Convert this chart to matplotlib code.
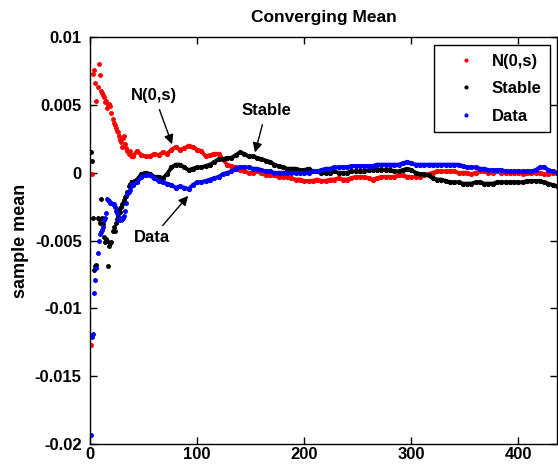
import matplotlib
matplotlib.use("Agg")
import matplotlib.pyplot as plt

# sample index: every step for the first 39 points, then every 4th
x_early = list(range(1, 40))
x_late = list(range(40, 437, 4))

normal_early = [
    -0.0127, -0.0001, 0.0073, 0.0076, 0.0066, 0.0053, 0.0063, 0.0080, 0.0072, 0.0060,
    0.0059, 0.0057, 0.0056, 0.0052, 0.0053, 0.0048, 0.0050, 0.0051, 0.0049, 0.0044,
    0.0040, 0.0037, 0.0035, 0.0033, 0.0031, 0.0030, 0.0027, 0.0024, 0.0023, 0.0019,
    0.0026, 0.0027, 0.0021, 0.0018, 0.0016, 0.0014, 0.0016, 0.0013, 0.0012,
]
normal_late = [
    0.0012, 0.0016, 0.0013, 0.0012, 0.0012, 0.0014, 0.0013, 0.0015, 0.0014, 0.0017,
    0.0019, 0.0017, 0.0018, 0.0020, 0.0019, 0.0017, 0.0016, 0.0012, 0.0013, 0.0014,
    0.0014, 0.0010, 0.0006, 0.0005, 0.0004, 0.0002, 0.0001, 0.0000, 0.0000, 0.0001,
    0.0000, -0.0002, -0.0002, -0.0002, -0.0003, -0.0003, -0.0003, -0.0004, -0.0005, -0.0005,
    -0.0006, -0.0006, -0.0006, -0.0005, -0.0006, -0.0006, -0.0005, -0.0005, -0.0004, -0.0005,
    -0.0005, -0.0004, -0.0003, -0.0003, -0.0003, -0.0004, -0.0005, -0.0004, -0.0003, -0.0003,
    -0.0003, -0.0003, -0.0002, -0.0002, -0.0003, -0.0003, -0.0003, -0.0003, -0.0002, -0.0001,
    0.0000, 0.0001, 0.0001, 0.0001, 0.0001, 0.0001, 0.0000, 0.0000, 0.0000, -0.0001,
    0.0000, 0.0001, 0.0001, 0.0000, 0.0000, 0.0001, 0.0000, 0.0000, 0.0000, 0.0000,
    0.0000, -0.0001, 0.0000, 0.0000, 0.0000, 0.0000, -0.0001, -0.0001, 0.0000, 0.0000,
]

stable_early = [
    0.0015, 0.0009, -0.0033, -0.0072, -0.0069, -0.0068, -0.0033, -0.0034, -0.0037, -0.0019,
    -0.0033, -0.0038, -0.0047, -0.0051, -0.0049, -0.0050, -0.0069, -0.0054, -0.0052, -0.0051,
    -0.0043, -0.0040, -0.0043, -0.0037, -0.0034, -0.0032, -0.0027, -0.0029, -0.0025, -0.0023,
    -0.0022, -0.0020, -0.0018, -0.0017, -0.0014, -0.0010, -0.0008, -0.0009, -0.0007,
]
stable_late = [
    -0.0007, -0.0005, -0.0001, 0.0000, -0.0001, -0.0003, -0.0003, -0.0004, -0.0001, 0.0004,
    0.0006, 0.0006, 0.0004, 0.0002, 0.0003, 0.0004, 0.0004, 0.0005, 0.0006, 0.0008,
    0.0010, 0.0010, 0.0011, 0.0011, 0.0013, 0.0015, 0.0014, 0.0012, 0.0012, 0.0011,
    0.0010, 0.0009, 0.0008, 0.0006, 0.0005, 0.0004, 0.0003, 0.0003, 0.0003, 0.0002,
    0.0002, 0.0003, 0.0001, 0.0001, 0.0000, 0.0000, 0.0000, 0.0001, 0.0000, 0.0000,
    0.0000, 0.0001, 0.0001, 0.0001, 0.0001, 0.0002, 0.0002, 0.0002, 0.0002, 0.0002,
    0.0002, 0.0001, 0.0001, 0.0002, 0.0003, 0.0002, 0.0000, -0.0001, -0.0001, -0.0002,
    -0.0004, -0.0005, -0.0005, -0.0006, -0.0007, -0.0007, -0.0007, -0.0008, -0.0008, -0.0008,
    -0.0007, -0.0007, -0.0008, -0.0008, -0.0008, -0.0007, -0.0007, -0.0007, -0.0007, -0.0007,
    -0.0007, -0.0007, -0.0006, -0.0006, -0.0006, -0.0006, -0.0007, -0.0008, -0.0009, -0.0010,
]

data_early = [
    -0.0193, -0.0121, -0.0119, -0.0089, -0.0079, -0.0070, -0.0059, -0.0050, -0.0045, -0.0044,
    -0.0042, -0.0040, -0.0035, -0.0033, -0.0030, -0.0019, -0.0020, -0.0021, -0.0022, -0.0022,
    -0.0023, -0.0023, -0.0025, -0.0028, -0.0030, -0.0034, -0.0035, -0.0033, -0.0035, -0.0034,
    -0.0033, -0.0032, -0.0028, -0.0022, -0.0016, -0.0014, -0.0013, -0.0010, -0.0009,
]
data_late = [
    -0.0009, -0.0007, -0.0003, -0.0002, -0.0002, -0.0004, -0.0006, -0.0007, -0.0008, -0.0009,
    -0.0011, -0.0010, -0.0011, -0.0012, -0.0009, -0.0007, -0.0007, -0.0006, -0.0005, -0.0004,
    -0.0003, -0.0001, 0.0000, 0.0001, 0.0003, 0.0004, 0.0004, 0.0004, 0.0003, 0.0003,
    0.0002, 0.0001, 0.0001, 0.0000, 0.0000, 0.0000, 0.0000, 0.0000, 0.0000, 0.0000,
    0.0000, 0.0000, 0.0001, 0.0001, 0.0002, 0.0003, 0.0003, 0.0004, 0.0004, 0.0004,
    0.0004, 0.0005, 0.0005, 0.0005, 0.0005, 0.0005, 0.0005, 0.0006, 0.0006, 0.0006,
    0.0006, 0.0006, 0.0006, 0.0007, 0.0008, 0.0007, 0.0006, 0.0006, 0.0006, 0.0006,
    0.0006, 0.0006, 0.0006, 0.0006, 0.0006, 0.0006, 0.0006, 0.0005, 0.0004, 0.0004,
    0.0004, 0.0003, 0.0003, 0.0002, 0.0002, 0.0002, 0.0002, 0.0001, 0.0001, 0.0001,
    0.0001, 0.0001, 0.0001, 0.0001, 0.0002, 0.0004, 0.0004, 0.0002, 0.0001, 0.0000,
]

labels = ["N(0,s)", "Stable", "Data"]
colors = ["#ff0000", "#000000", "#0000ff"]
x_ticks = [0, 100, 200, 300, 400]
y_ticks = [-0.02, -0.015, -0.01, -0.005, 0, 0.005, 0.01]
y_ticklabels = ["-0.02", "-0.015", "-0.01", "-0.005", "0", "0.005", "0.01"]

plt.rcParams["font.family"] = ["Liberation Sans", "DejaVu Sans"]
plt.rcParams["font.weight"] = "bold"
plt.rcParams["font.size"] = 12

fig = plt.figure(figsize=(5.58, 4.72), dpi=100)
ax = fig.add_axes([0.1613, 0.0593, 0.837, 0.862])

early = [normal_early, stable_early, data_early]
late = [normal_late, stable_late, data_late]
for ye, yl, lab, c in zip(early, late, labels, colors):
    # isolated dots at the start, then the dense run of dots that reads as a band
    ax.plot(x_early, ye, ".", color=c, markersize=5, label=lab)
    ax.plot([x_early[-1]] + x_late, [ye[-1]] + yl, ".-", color=c, markersize=5.5, lw=2.8)

ax.set_xlim(0, 436)
ax.set_ylim(-0.02, 0.01)
ax.set_xticks(x_ticks)
ax.set_yticks(y_ticks)
ax.set_yticklabels(y_ticklabels)
ax.tick_params(direction="in", length=5, width=1, top=True, right=True)
ax.tick_params(axis="x", pad=2)
ax.tick_params(axis="y", pad=6)
for s in ax.spines.values():
    s.set_linewidth(1)

ax.set_title("Converging Mean", fontsize=12.5, fontweight="bold", pad=11)
ax.set_ylabel("sample mean", fontsize=13, fontweight="bold", labelpad=4)

arrow = dict(arrowstyle="-|>", color="k", lw=1, mutation_scale=14)
ax.annotate("N(0,s)", xy=(76.6, 0.0021), xytext=(60, 0.0057), ha="center", va="center",
            arrowprops=dict(arrow, shrinkA=3, shrinkB=0))
ax.annotate("Stable", xy=(154, 0.0015), xytext=(164.5, 0.0046), ha="center", va="center",
            arrowprops=dict(arrow, shrinkA=3, shrinkB=0))
ax.annotate("Data", xy=(91.6, -0.0017), xytext=(58, -0.0048), ha="center", va="center",
            arrowprops=dict(arrow, shrinkA=2, shrinkB=0))

leg = ax.legend(loc="upper right", bbox_to_anchor=(0.985, 0.98), borderaxespad=0,
                fancybox=False, edgecolor="black", framealpha=1, numpoints=1,
                markerscale=0.8, handlelength=2.75, handletextpad=0.2,
                labelspacing=0.75, borderpad=0.5)
leg.get_frame().set_linewidth(1)

fig.savefig("out.png", dpi=100)
